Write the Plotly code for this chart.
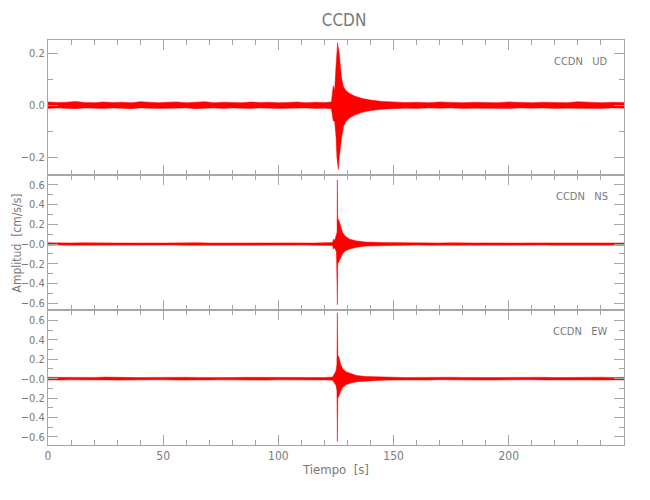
import plotly.graph_objects as go
from plotly.subplots import make_subplots

# ---------------- data (envelopes) ----------------
station = "CCDN"
components = ["UD", "NS", "EW"]

# UD component: time knots [s], upper / lower envelope [cm/s/s]
t_ud = [0, 4, 8, 12, 16, 20, 24, 28, 32, 36, 40, 44, 48, 52, 56, 60, 64, 68, 72, 76,
        80, 84, 88, 92, 96, 100, 104, 108, 112, 116, 120, 123.0, 123.8, 124.4, 125.0,
        125.4, 125.7, 126.0, 126.4, 126.9, 127.5, 128.3, 129.5, 131, 133, 136, 140,
        145, 150, 155, 160, 165, 170, 175, 180, 185, 190, 195, 200, 205, 210, 215,
        220, 225, 230, 235, 240, 245, 250]
up_ud = [0.013, 0.011, 0.012, 0.015, 0.011, 0.010, 0.013, 0.011, 0.012, 0.010, 0.014,
         0.011, 0.010, 0.012, 0.013, 0.010, 0.011, 0.014, 0.010, 0.012, 0.011, 0.010,
         0.013, 0.011, 0.012, 0.010, 0.011, 0.013, 0.010, 0.012, 0.011, 0.013, 0.075,
         0.055, 0.150, 0.235, 0.240, 0.220, 0.200, 0.150, 0.100, 0.070, 0.055, 0.045,
         0.036, 0.027, 0.020, 0.015, 0.013, 0.011, 0.012, 0.010, 0.013, 0.011, 0.010,
         0.012, 0.011, 0.010, 0.013, 0.011, 0.010, 0.012, 0.011, 0.010, 0.014, 0.011,
         0.010, 0.012, 0.011]
lo_ud = [-0.012, -0.010, -0.011, -0.013, -0.010, -0.011, -0.012, -0.010, -0.011, -0.013,
         -0.010, -0.011, -0.012, -0.010, -0.011, -0.010, -0.013, -0.011, -0.010, -0.012,
         -0.010, -0.011, -0.012, -0.010, -0.011, -0.012, -0.010, -0.011, -0.010, -0.012,
         -0.011, -0.013, -0.060, -0.060, -0.120, -0.200, -0.230, -0.247, -0.200, -0.160,
         -0.120, -0.080, -0.060, -0.048, -0.038, -0.028, -0.020, -0.015, -0.013, -0.011,
         -0.012, -0.010, -0.011, -0.010, -0.012, -0.011, -0.010, -0.011, -0.012, -0.010,
         -0.011, -0.010, -0.012, -0.011, -0.010, -0.011, -0.012, -0.010, -0.011]

# NS component
t_ns = [0, 5, 10, 15, 20, 25, 30, 35, 40, 45, 50, 55, 60, 65, 70, 75, 80, 85, 90, 95,
        100, 105, 110, 115, 120, 123.5, 123.9, 124.5, 125.2, 125.45, 125.6, 125.75,
        126.3, 127.0, 127.8, 129, 131, 134, 138, 145, 150, 155, 160, 165, 170, 175,
        180, 185, 190, 195, 200, 205, 210, 215, 220, 225, 230, 235, 240, 245, 250]
up_ns = [0.013, 0.010, 0.011, 0.013, 0.010, 0.012, 0.011, 0.010, 0.013, 0.011, 0.010,
         0.012, 0.011, 0.014, 0.010, 0.011, 0.012, 0.010, 0.011, 0.013, 0.010, 0.011,
         0.012, 0.010, 0.011, 0.015, 0.050, 0.040, 0.100, 0.120, 0.650, 0.260, 0.240,
         0.180, 0.120, 0.080, 0.050, 0.032, 0.020, 0.015, 0.013, 0.011, 0.012, 0.010,
         0.011, 0.013, 0.010, 0.011, 0.012, 0.010, 0.011, 0.010, 0.012, 0.011, 0.010,
         0.011, 0.013, 0.010, 0.011, 0.012, 0.011]
lo_ns = [-0.011, -0.010, -0.012, -0.010, -0.011, -0.013, -0.010, -0.011, -0.010, -0.012,
         -0.011, -0.010, -0.013, -0.011, -0.010, -0.012, -0.011, -0.010, -0.011, -0.012,
         -0.010, -0.011, -0.010, -0.012, -0.011, -0.015, -0.050, -0.040, -0.080, -0.100,
         -0.615, -0.200, -0.180, -0.140, -0.100, -0.070, -0.050, -0.032, -0.020, -0.015,
         -0.012, -0.011, -0.010, -0.012, -0.011, -0.010, -0.011, -0.013, -0.010, -0.011,
         -0.010, -0.012, -0.011, -0.010, -0.011, -0.012, -0.010, -0.011, -0.010, -0.012,
         -0.011]

# EW component
t_ew = [0, 5, 10, 15, 20, 25, 30, 35, 40, 45, 50, 55, 60, 65, 70, 75, 80, 85, 90, 95,
        100, 105, 110, 115, 120, 123.5, 124.0, 125.0, 125.4, 125.6, 125.8, 126.3,
        127.0, 128.0, 129.5, 131.5, 134, 138, 145, 150, 155, 160, 165, 170, 175, 180,
        185, 190, 195, 200, 205, 210, 215, 220, 225, 230, 235, 240, 245, 250]
up_ew = [0.014, 0.012, 0.015, 0.011, 0.013, 0.016, 0.012, 0.014, 0.011, 0.013, 0.015,
         0.012, 0.014, 0.013, 0.011, 0.015, 0.012, 0.014, 0.013, 0.012, 0.014, 0.011,
         0.013, 0.015, 0.012, 0.016, 0.040, 0.080, 0.150, 0.680, 0.240, 0.220, 0.150,
         0.100, 0.070, 0.050, 0.033, 0.022, 0.016, 0.014, 0.012, 0.013, 0.015, 0.012,
         0.014, 0.013, 0.011, 0.014, 0.012, 0.013, 0.015, 0.012, 0.014, 0.011, 0.013,
         0.014, 0.012, 0.015, 0.013, 0.012]
lo_ew = [-0.013, -0.015, -0.012, -0.014, -0.011, -0.013, -0.015, -0.012, -0.014, -0.013,
         -0.011, -0.014, -0.012, -0.015, -0.013, -0.012, -0.014, -0.011, -0.013, -0.015,
         -0.012, -0.014, -0.013, -0.012, -0.014, -0.016, -0.040, -0.070, -0.120, -0.650,
         -0.200, -0.180, -0.130, -0.090, -0.060, -0.045, -0.033, -0.022, -0.016, -0.014,
         -0.013, -0.012, -0.014, -0.011, -0.013, -0.015, -0.012, -0.014, -0.013, -0.012,
         -0.014, -0.011, -0.013, -0.015, -0.012, -0.014, -0.013, -0.012, -0.014, -0.013]

# axis ranges and ticks
x_range = [0, 250]
x_tickvals = [0, 50, 100, 150, 200]
x_ticktext = ["0", "50", "100", "150", "200"]
y_ranges = [[-0.268, 0.251], [-0.668, 0.70], [-0.686, 0.71]]
y_tickvals = [[-0.2, 0.0, 0.2],
              [-0.6, -0.4, -0.2, 0.0, 0.2, 0.4, 0.6],
              [-0.6, -0.4, -0.2, 0.0, 0.2, 0.4, 0.6]]
y_ticktext = [["\u22120.2", "0.0", "0.2"],
              ["\u22120.6", "\u22120.4", "\u22120.2", "\u22120.0", "0.2", "0.4", "0.6"],
              ["\u22120.6", "\u22120.4", "\u22120.2", "\u22120.0", "0.2", "0.4", "0.6"]]

title_text = "CCDN"
x_title = "Tiempo  [s]"
y_title = "Amplitud  [cm/s/s]"

# ---------------- figure ----------------
FONT = "Liberation Sans Narrow, DejaVu Sans Condensed, Arial Narrow, sans-serif"
TXT = "#7a7a7a"
LINE = "#a6a6a6"
RED = "#ff0000"

fig = make_subplots(rows=3, cols=1, shared_xaxes=True, vertical_spacing=0)

series = [(t_ud, up_ud, lo_ud), (t_ns, up_ns, lo_ns), (t_ew, up_ew, lo_ew)]
for i, (t, up, lo) in enumerate(series):
    xs = list(t) + list(t)[::-1]
    ys = list(up) + list(lo)[::-1]
    fig.add_trace(go.Scatter(x=xs, y=ys, mode="lines", fill="toself",
                             fillcolor=RED, line=dict(color=RED, width=0.5),
                             hoverinfo="skip", showlegend=False),
                  row=i + 1, col=1)

for i in range(3):
    fig.update_yaxes(row=i + 1, col=1, range=y_ranges[i], tickmode="array",
                     tickvals=y_tickvals[i], ticktext=y_ticktext[i],
                     ticks="inside", ticklen=10, tickwidth=1, tickcolor=LINE,
                     minor=dict(dtick=0.1, tick0=0, ticks="inside", ticklen=5,
                                tickcolor=LINE, tickwidth=1),
                     showline=True, linecolor=LINE, linewidth=1, mirror="allticks",
                     showgrid=False, zeroline=False, automargin=False,
                     tickfont=dict(family=FONT, size=11, color=TXT))
    fig.update_xaxes(row=i + 1, col=1, range=x_range, tickmode="array",
                     tickvals=x_tickvals, ticktext=x_ticktext,
                     ticks="inside", ticklen=10, tickwidth=1, tickcolor=LINE,
                     minor=dict(dtick=10, tick0=0, ticks="inside", ticklen=5,
                                tickcolor=LINE, tickwidth=1),
                     showline=True, linecolor=LINE, linewidth=1, mirror="allticks",
                     showgrid=False, zeroline=False, automargin=False,
                     showticklabels=(i == 2),
                     tickfont=dict(family=FONT, size=12, color=TXT))

fig.update_xaxes(row=3, col=1, title=dict(text=x_title, standoff=2,
                 font=dict(family=FONT, size=13, color=TXT)))

# y-axis title placed beside the middle panel
fig.add_annotation(text=y_title, xref="paper", yref="paper", x=-0.054, y=0.5,
                   xanchor="center", yanchor="middle", textangle=-90, showarrow=False,
                   font=dict(family=FONT, size=12, color=TXT))

# component labels
for i, comp in enumerate(components):
    fig.add_annotation(text=f"{station}&nbsp;&nbsp;&nbsp;{comp}",
                       xref=f"x{i + 1} domain" if i else "x domain",
                       yref=f"y{i + 1} domain" if i else "y domain",
                       x=0.975, y=0.84, xanchor="right", yanchor="middle",
                       showarrow=False, font=dict(family=FONT, size=11, color=TXT))

fig.update_layout(
    width=650, height=500,
    margin=dict(l=40, r=34, t=32, b=63),
    paper_bgcolor="white", plot_bgcolor="white",
    title=dict(text=title_text, x=0.517, xanchor="center", y=0.976, yanchor="middle",
               font=dict(family=FONT, size=17, color=TXT)),
    showlegend=False,
)

fig.write_html("out.html")
